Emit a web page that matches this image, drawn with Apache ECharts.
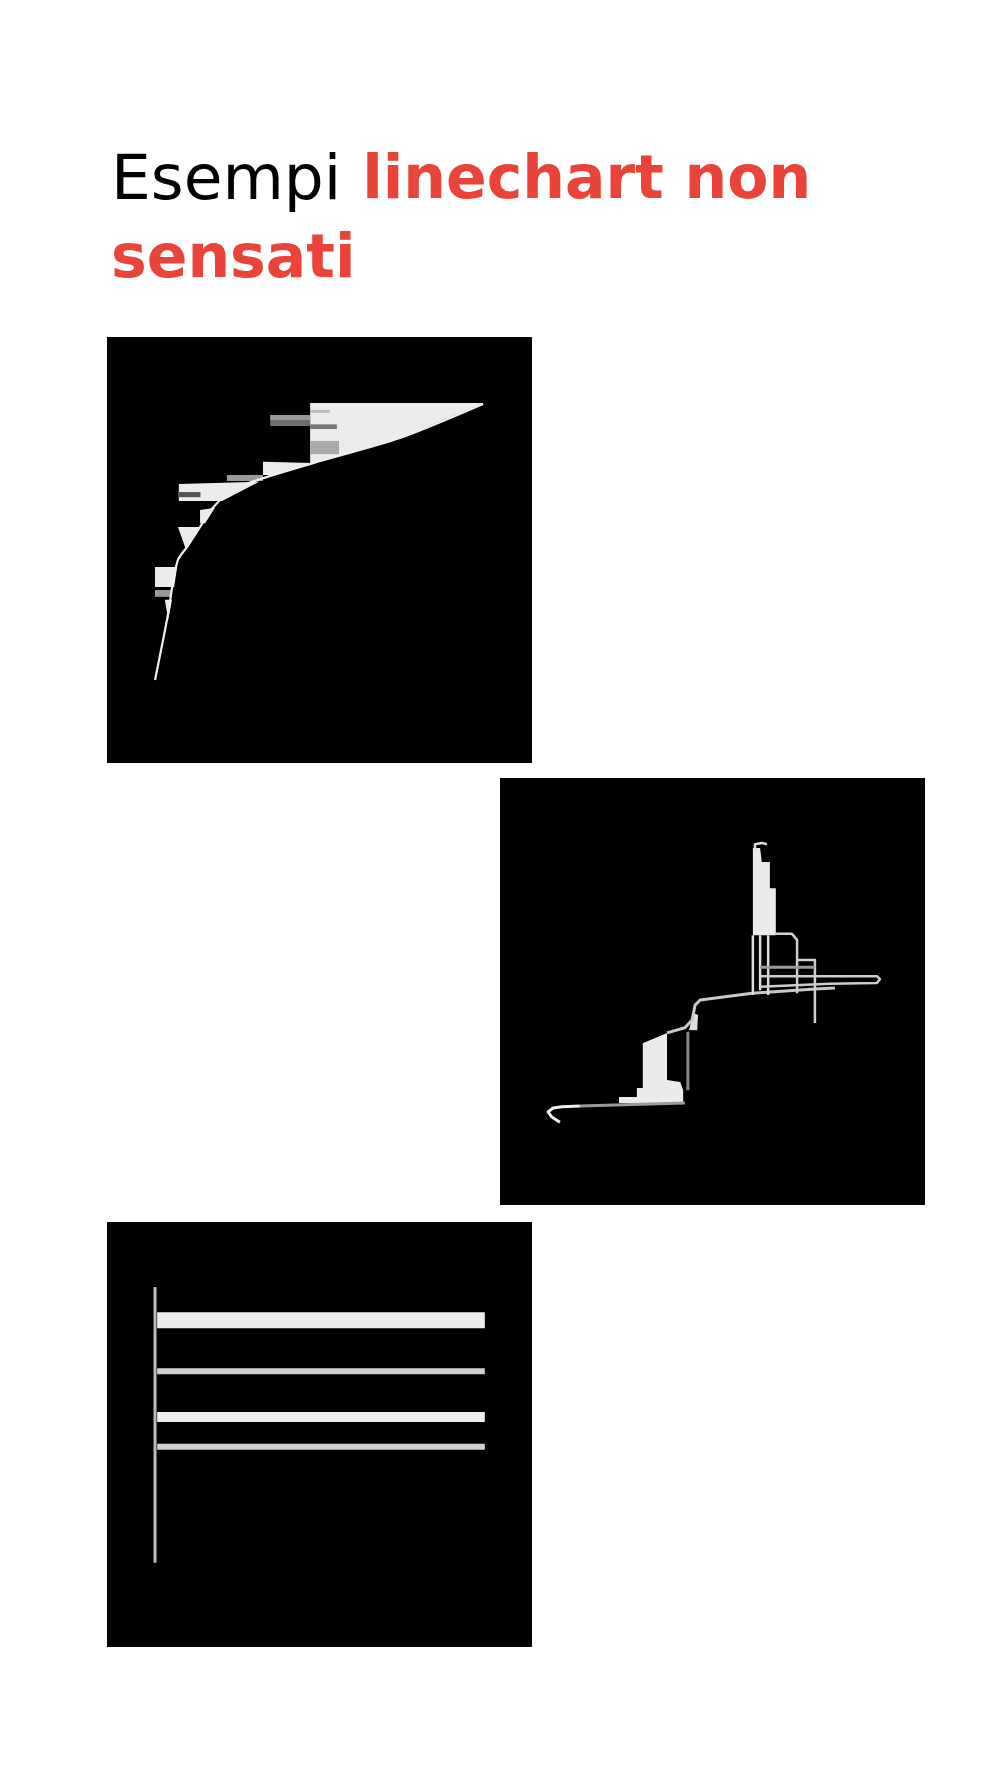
<!DOCTYPE html>
<html>
<head>
<meta charset="utf-8">
<script src="https://cdn.jsdelivr.net/npm/echarts@6/dist/echarts.min.js"></script>
<style>
html,body{margin:0;padding:0;background:#fff;}
#chart{width:1000px;height:1778px;}
</style>
</head>
<body>
<div id="chart"></div>
<script>
// ---------- Title ----------
const titleRegular = 'Esempi';
const titleBoldLine1 = 'linechart non';
const titleBoldLine2 = 'sensati';

// ---------- Panel 1: curve with horizontal fills ----------
const p1Curve = [[88.5,84.3],[68.9,76.3],[48.5,70.4],[35.3,66.4],[29.6,64.1],[24.9,59.9],[21.9,55.4],[18.8,50.7],[16.7,47.7],[15.5,42.3],[14.4,35.2],[13.2,28.9],[11.3,19.5]];
const p1FillA = [[47.8,84.5],[88.5,84.5],[68.9,76.3],[48.5,70.4],[47.8,70.4]];
const p1FillB = [[36.7,70.7],[48.5,70.4],[39.5,67.6],[36.7,67.6]];
const p1FillC = [[16.9,65.5],[35.8,66.0],[27.1,61.5],[16.9,61.5]];
const p1FillD = [[21.9,59.4],[25.4,59.9],[23.1,56.3],[21.9,56.3]];
const p1FillE = [[16.7,55.4],[21.9,55.4],[18.6,50.0]];
const p1FillF = [[11.3,46.0],[16.5,46.0],[15.8,41.3],[11.3,41.3]];
const p1FillG = [[13.6,38.3],[15.3,38.3],[14.4,33.6]];
// bands: [xStart, xEnd, yBottom, yTop]
const p1Bands = [[38.4,47.8,79.1,81.7],[38.4,47.8,80.5,81.7],[47.8,54.1,78.4,79.5],[47.8,54.6,72.5,75.6],[47.8,52.5,82.2,82.9],[28.2,36.7,66.2,67.6],[16.7,22.0,62.4,63.6],[11.3,15.3,39.0,40.6]];
const p1BandShades = ['#6e6e6e','#9a9a9a','#777777','#aaaaaa','#bbbbbb','#999999','#555555','#999999'];

// ---------- Panel 2: tangled path ----------
const p2Hook = [[14.1,19.4],[12.2,20.6],[11.3,21.8],[12.5,22.7],[14.6,23.0],[18.8,23.2]];
const p2Base = [[18.8,23.2],[43.5,23.9]];
const p2Block = [[28.0,23.9],[28.0,25.3],[32.2,25.3],[32.2,27.4],[33.6,27.4],[33.6,37.9],[39.3,40.3],[39.3,29.3],[42.4,28.8],[43.1,26.9],[43.1,23.9]];
const p2Riser = [[44.2,26.9],[44.2,40.5]];
const p2Path = [[39.3,40.3],[43.5,41.5],[45.2,43.3],[45.9,46.8],[47.1,48.0],[59.3,49.6],[74.1,50.6],[78.8,50.8]];
const p2Bulge = [[44.5,41.0],[45.4,45.0],[46.6,44.5],[46.4,40.9]];
const p2Tower = [[59.5,83.6],[61.2,83.6],[61.6,80.3],[63.5,80.3],[63.5,74.2],[64.9,74.2],[64.9,63.2],[59.5,63.2]];
const p2TowerHook = [[60.0,82.9],[60.0,84.5],[61.6,84.8],[62.8,84.5]];
const p2Legs = [[[59.5,63.2],[59.5,49.2]],[[61.2,63.2],[61.2,50.3]],[[63.1,63.2],[63.1,49.2]]];
const p2Arm = [[64.9,63.5],[68.7,63.5],[69.9,62.1],[69.9,49.6]];
const p2Box = [[69.9,57.4],[74.1,57.4],[74.1,42.6]];
const p2Rail = [[61.2,55.7],[74.1,55.7]];
const p2Loop = [[61.2,53.6],[88.7,53.6],[89.4,52.9],[88.7,52.0],[77.6,51.8],[61.2,51.1]];

// ---------- Panel 3: flat lines ----------
const p3Axis = [[11.3,19.8],[11.3,84.7]];
const p3Levels = [76.9, 64.9, 54.1, 47.1];
const p3Start = 11.8;
const p3End = 88.9;
const p3Widths = [16, 6, 10, 6];
const p3Shades = ['#ededed','#cfcfcf','#ededed','#cfcfcf'];

const FONT = 'DejaVu Sans';
const RED = '#E9433A';

function lineS(data, g, color, width, z, smooth) {
  return {type:'line', xAxisIndex:g, yAxisIndex:g, data:data, showSymbol:false, symbol:'none',
    silent:true, animation:false, z: z || 3, smooth: smooth || false,
    lineStyle:{color:color, width:width, cap:'butt', join:'round'}};
}
function polyS(points, g, color, z) {
  return {type:'custom', xAxisIndex:g, yAxisIndex:g, data:points, silent:true, animation:false, z: z || 2,
    renderItem:function(params, api){
      if (params.dataIndex !== 0) return null;
      return {type:'polygon', shape:{points: points.map(function(p){return api.coord(p);})}, style:{fill:color}};
    }};
}
function bandToPoly(b){ return [[b[0],b[2]],[b[1],b[2]],[b[1],b[3]],[b[0],b[3]]]; }

const series = [];
// Panel 1
[p1FillA,p1FillB,p1FillC,p1FillD,p1FillE,p1FillF,p1FillG].forEach(function(p){ series.push(polyS(p,0,'#ececec',2)); });
p1Bands.forEach(function(b,i){ series.push(polyS(bandToPoly(b),0,p1BandShades[i],3)); });
series.push(lineS(p1Curve,0,'#eeeeee',2.2,4,0.25));
// Panel 2
series.push(polyS(p2Block,1,'#ebebeb',2));
series.push(polyS(p2Bulge,1,'#dddddd',2));
series.push(polyS(p2Tower,1,'#ebebeb',2));
series.push(lineS(p2Hook,1,'#eeeeee',3));
series.push(lineS(p2Base,1,'#9a9a9a',3));
series.push(lineS(p2Riser,1,'#888888',3));
series.push(lineS(p2Path,1,'#c8c8c8',3));
series.push(lineS(p2TowerHook,1,'#e0e0e0',2.5));
p2Legs.forEach(function(l){ series.push(lineS(l,1,'#dddddd',2.5)); });
series.push(lineS(p2Arm,1,'#d0d0d0',2.5));
series.push(lineS(p2Box,1,'#d0d0d0',2.5));
series.push(lineS(p2Rail,1,'#9a9a9a',3));
series.push(lineS(p2Loop,1,'#cccccc',2.5));
// Panel 3
series.push(lineS(p3Axis,2,'#bbbbbb',3));
p3Levels.forEach(function(y,i){ series.push(lineS([[p3Start,y],[p3End,y]],2,p3Shades[i],p3Widths[i])); });

const grids = [
  {left:107, top:337, width:425, height:426},
  {left:500, top:778, width:425, height:427},
  {left:107, top:1222, width:425, height:425}
].map(function(g){ return Object.assign({show:true, backgroundColor:'#000000', borderWidth:0, containLabel:false}, g); });

const axes = [0,1,2].map(function(i){ return {type:'value', gridIndex:i, min:0, max:100, show:false}; });

const chart = echarts.init(document.getElementById('chart'), null, {renderer:'canvas'});
chart.setOption({
  backgroundColor:'#ffffff',
  animation:false,
  title:{
    left:106, top:138,
    text:'{r|' + titleRegular + '} {b|' + titleBoldLine1 + '}\n{b|' + titleBoldLine2 + '}',
    textStyle:{
      fontFamily:FONT, fontSize:60, lineHeight:79, color:'#000',
      rich:{
        r:{fontFamily:FONT, fontSize:63, fontWeight:'normal', color:'#000000', lineHeight:79},
        b:{fontFamily:FONT, fontSize:60, fontWeight:'bold', color:RED, lineHeight:79}
      }
    }
  },
  grid:grids,
  xAxis:axes,
  yAxis:axes.map(function(a){ return Object.assign({}, a); }),
  series:series
});
</script>
</body>
</html>
